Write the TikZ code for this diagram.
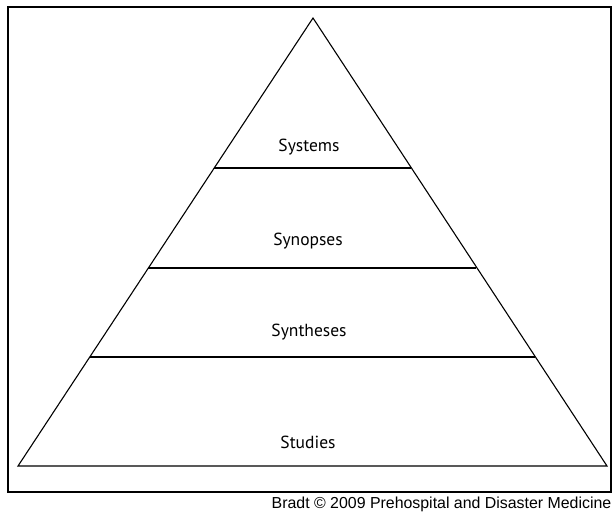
\documentclass[tikz,border=0pt]{standalone}
\usepackage{fontspec}
\setmainfont{PT Sans}
\newfontfamily\captionfont{Liberation Sans}
\begin{document}
\begin{tikzpicture}[x=1pt,y=-1pt,
  tier/.style={font=\fontsize{17.5}{20}\selectfont, inner sep=0pt, anchor=base},
  edge/.style={line width=1.1pt, line join=miter}]
\useasboundingbox (0,0) rectangle (612,512);
% frame
\draw[line width=1.4pt] (8,7) rectangle (611,492);
% pyramid
\coordinate (apex) at (313,18);
\coordinate (bl) at (18,466);
\coordinate (br) at (607,466);
\draw[edge] (bl) -- (apex) -- (br) -- cycle;
\draw[edge] (214,168) -- (411,168);
\draw[edge] (148,268) -- (476,268);
\draw[edge] (90,357) -- (535,357);
% labels
\node[tier] (systems) at (309,151.5) {Systems};
\node[tier] (synopses) at (308,245) {Synopses};
\node[tier] (syntheses) at (309,336) {Syntheses};
\node[tier] (studies) at (308,448) {Studies};
% caption
\node[anchor=base east, inner sep=0pt, font=\captionfont\fontsize{15.9}{18}\selectfont] (cap) at (611.5,508.5) {Bradt © 2009 Prehospital and Disaster Medicine};
\end{tikzpicture}
\end{document}
